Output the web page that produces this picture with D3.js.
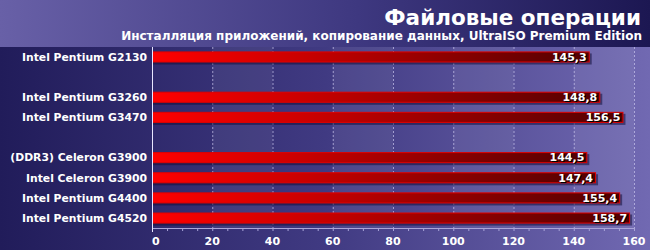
<!DOCTYPE html>
<html>
<head>
<meta charset="utf-8">
<script src="https://cdn.jsdelivr.net/npm/d3@7"></script>
<style>
  body { margin: 0; background: #221d5c; }
  svg { display: block; }
  text { font-family: "DejaVu Sans", Verdana, sans-serif; font-weight: bold; fill: #fff; }
</style>
</head>
<body>
<div id="chart1"></div>
<script>
// Данные
const categories = ["Intel Pentium G2130", "", "Intel Pentium G3260", "Intel Pentium G3470", "",
                    "(DDR3) Celeron G3900", "Intel Celeron G3900", "Intel Pentium G4400", "Intel Pentium G4520"];
const values = [145.3, null, 148.8, 156.5, null, 144.5, 147.4, 155.4, 158.7];
const ticks = [0, 20, 40, 60, 80, 100, 120, 140, 160];
const title = "Файловые операции";
const subtitle = "Инсталляция приложений, копирование данных, UltraISO Premium Edition";

const W = 650, H = 250;
const margin = {top: 47, right: 16, bottom: 22, left: 152};
const width = W - margin.left - margin.right;
const height = H - margin.top - margin.bottom;

const svg = d3.select("#chart1").append("svg")
    .attr("width", W)
    .attr("height", H);

const defs = svg.append("defs");

const bgGrad = defs.append("linearGradient").attr("id", "bg");
bgGrad.append("stop").attr("offset", "0%").attr("stop-color", "#211c5a");
bgGrad.append("stop").attr("offset", "50%").attr("stop-color", "#403a82");
bgGrad.append("stop").attr("offset", "100%").attr("stop-color", "#7169b2");

const headGrad = defs.append("linearGradient").attr("id", "head");
headGrad.append("stop").attr("offset", "0%").attr("stop-color", "#6860a7");
headGrad.append("stop").attr("offset", "55%").attr("stop-color", "#3e3880");
headGrad.append("stop").attr("offset", "100%").attr("stop-color", "#1c1752");

const barGrad = defs.append("linearGradient").attr("id", "bar");
barGrad.append("stop").attr("offset", "0%").attr("stop-color", "#ff0000");
barGrad.append("stop").attr("offset", "35%").attr("stop-color", "#c80000");
barGrad.append("stop").attr("offset", "100%").attr("stop-color", "#500000");

svg.append("rect").attr("width", W).attr("height", H).attr("fill", "url(#bg)");
svg.append("rect").attr("width", W).attr("height", margin.top).attr("fill", "url(#head)");

svg.append("text")
    .attr("x", 641).attr("y", 25)
    .attr("text-anchor", "end")
    .attr("font-size", 21.5)
    .text(title);

svg.append("text")
    .attr("x", 642).attr("y", 40)
    .attr("text-anchor", "end")
    .attr("font-size", 12)
    .text(subtitle);

const chart1 = svg.append("g")
    .attr("transform", "translate(" + margin.left + "," + margin.top + ")");

const x = d3.scaleLinear()
    .domain([0, 160])
    .range([0, width]);

const y = d3.scaleBand()
    .domain(d3.range(categories.length))
    .range([0, height])
    .paddingInner(0.45)
    .paddingOuter(0.22);

// светлые полосы
const bands = d3.range(1, ticks.length, 2);
chart1.append("g").selectAll("rect")
    .data(bands)
    .enter().append("rect")
    .attr("x", function(d) { return x(ticks[d]); })
    .attr("width", function(d) { return x(ticks[d] + 20) - x(ticks[d]); })
    .attr("y", 0)
    .attr("height", height)
    .attr("fill", "#fff")
    .attr("opacity", 0.06);

// сетка
chart1.append("g").selectAll("line")
    .data(ticks.slice(1))
    .enter().append("line")
    .attr("x1", function(d) { return x(d) + 0.5; })
    .attr("x2", function(d) { return x(d) + 0.5; })
    .attr("y1", 0)
    .attr("y2", height)
    .attr("stroke", "#c8c4ec")
    .attr("stroke-dasharray", "2,2")
    .attr("opacity", 0.7);

const data = values.map(function(v, i) { return {name: categories[i], value: v, i: i}; })
    .filter(function(d) { return d.value !== null; });

// тени
chart1.append("g").selectAll("rect")
    .data(data)
    .enter().append("rect")
    .attr("x", 1)
    .attr("y", function(d) { return y(d.i) + 2; })
    .attr("width", function(d) { return x(d.value) + 1; })
    .attr("height", y.bandwidth())
    .attr("fill", "#120e3a")
    .attr("opacity", 0.55);

chart1.append("g").selectAll("rect")
    .data(data)
    .enter().append("rect")
    .attr("x", 0.5)
    .attr("y", function(d) { return y(d.i) + 0.5; })
    .attr("width", function(d) { return x(d.value) - 1; })
    .attr("height", y.bandwidth() - 1)
    .attr("fill", "url(#bar)")
    .attr("stroke", "#e00000")
    .attr("stroke-width", 1);

const fmt = function(v) { return d3.format(".1f")(v).replace(".", ","); };

// подписи значений (с тенью)
const vals = chart1.append("g")
    .attr("font-size", 11)
    .attr("text-anchor", "end");
vals.selectAll("text.sh")
    .data(data)
    .enter().append("text")
    .attr("class", "sh")
    .attr("x", function(d) { return x(d.value) - 2; })
    .attr("y", function(d) { return y(d.i) + y.bandwidth() / 2 + 1; })
    .attr("dy", "0.35em")
    .style("fill", "#000")
    .text(function(d) { return fmt(d.value); });
vals.selectAll("text.v")
    .data(data)
    .enter().append("text")
    .attr("class", "v")
    .attr("x", function(d) { return x(d.value) - 3; })
    .attr("y", function(d) { return y(d.i) + y.bandwidth() / 2; })
    .attr("dy", "0.35em")
    .text(function(d) { return fmt(d.value); });

// подписи категорий
chart1.append("g")
    .attr("font-size", 10.8)
    .attr("text-anchor", "end")
    .selectAll("text")
    .data(data)
    .enter().append("text")
    .attr("x", -5)
    .attr("y", function(d) { return y(d.i) + y.bandwidth() / 2; })
    .attr("dy", "0.35em")
    .text(function(d) { return d.name; });

// ось X
const xAxis = chart1.append("g")
    .attr("transform", "translate(0," + height + ")");
xAxis.append("line")
    .attr("x1", 0).attr("x2", width + 1)
    .attr("y1", 0.5).attr("y2", 0.5)
    .attr("stroke", "#a9a4d8");
xAxis.selectAll("line.minor")
    .data(d3.range(0, 161, 5))
    .enter().append("line")
    .attr("class", "minor")
    .attr("x1", function(d) { return x(d) + 0.5; })
    .attr("x2", function(d) { return x(d) + 0.5; })
    .attr("y1", 0)
    .attr("y2", 3)
    .attr("stroke", "#a9a4d8");
xAxis.selectAll("text")
    .data(ticks)
    .enter().append("text")
    .attr("x", function(d) { return x(d); })
    .attr("y", 17)
    .attr("font-size", 11)
    .attr("text-anchor", function(d) { return d === 0 ? "start" : "middle"; })
    .text(function(d) { return d; });

// ось Y
chart1.append("line")
    .attr("x1", 0.5).attr("x2", 0.5)
    .attr("y1", 0).attr("y2", height + 4)
    .attr("stroke", "#e8e6ff");
</script>
</body>
</html>
